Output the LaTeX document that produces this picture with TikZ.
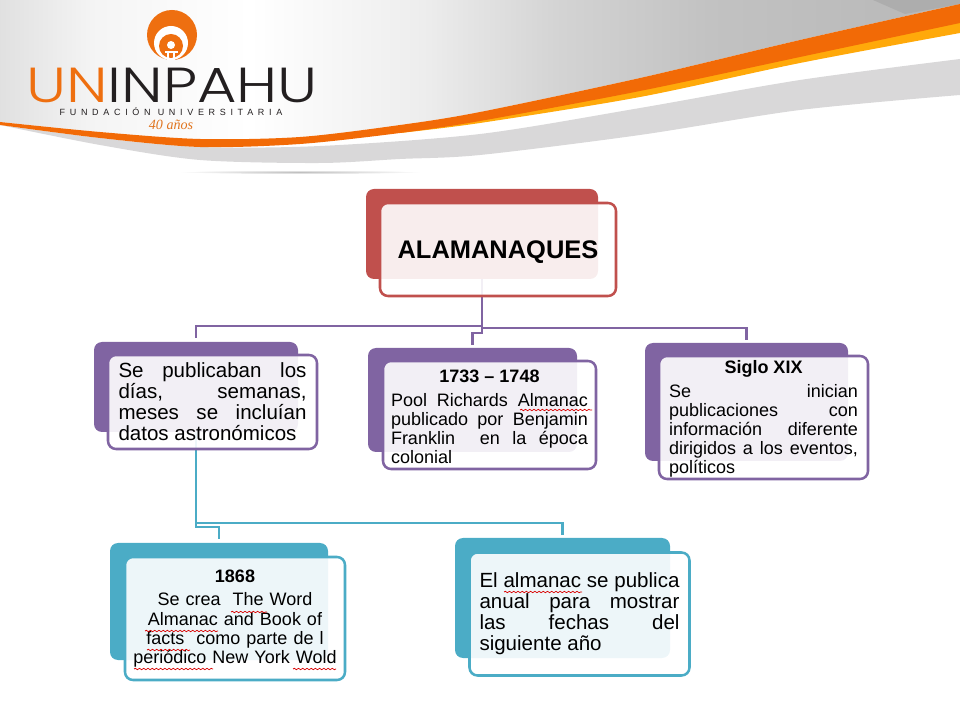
\documentclass[tikz,border=0pt]{standalone}
\usepackage{fontspec}
\usepackage{graphicx}
\setmainfont{Liberation Sans}
\newfontfamily\logofont{Poppins Light}
\newfontfamily\tagfont{Liberation Sans}[LetterSpace=52]
\newfontfamily\yearfont{Liberation Serif}
\usetikzlibrary{decorations.pathmorphing}

\definecolor{rootred}{HTML}{C0504D}
\definecolor{boxpurple}{HTML}{8064A2}
\definecolor{boxteal}{HTML}{4BACC6}
\definecolor{logoorange}{HTML}{EE6F10}
\definecolor{logodark}{HTML}{231F20}
\definecolor{swooshorange}{HTML}{F26A06}
\definecolor{swooshyellow}{HTML}{FFA90A}
\definecolor{bandgray}{HTML}{D9D8D9}

\pgfdeclarehorizontalshading{headershade}{100bp}{
  rgb(0bp)=(.88,.88,.88); rgb(25bp)=(.88,.88,.88); rgb(30bp)=(.96,.96,.96);
  rgb(38bp)=(1,1,1); rgb(47bp)=(.93,.93,.93); rgb(54bp)=(.83,.83,.83);
  rgb(62bp)=(.76,.76,.76); rgb(75bp)=(.72,.72,.72); rgb(100bp)=(.72,.72,.72)}

\newcommand{\px}{.025cm}
\newcommand{\boxhead}[1]{\hbox to \linewidth{\rule{0pt}{11.5pt}\hss\bfseries #1\hss}\par\vspace{3.5pt}}

\tikzset{
  backbox/.style={rounded corners=.2cm, inner sep=0pt},
  frontbox/.style={rounded corners=.2cm, inner sep=0pt, draw, line width=1.8pt,
    fill=white, fill opacity=.9, draw opacity=1, text opacity=1, text=black},
  bodytext/.style={font=\fontsize{12.8pt}{13.6pt}\selectfont, align=justify},
  largetext/.style={font=\fontsize{14.6pt}{15pt}\selectfont, align=justify},
  link/.style={line width=2pt},
  wavy/.style={red!85!black, line width=.5pt,
    decorate, decoration={snake, amplitude=.5pt, segment length=3pt}}
}

\begin{document}
\begin{tikzpicture}[x=\px, y=-\px]
      \useasboundingbox (0, 0) rectangle (960, 720);

      % header
      \begin{scope}
        \shade [shading=headershade] (0, 0) -- (960, 0) -- plot [smooth] coordinates {(960, 4) (800, 40) (640, 78) (480, 112) (400, 125) (300, 137) (200, 139) (100, 132) (0, 122)} -- cycle;
        \fill [black!32] (873, 0) -- (960, 0) -- (960, 4) -- (905, 14) -- cycle;
        \fill [bandgray] plot [smooth] coordinates {(0, 125) (100, 138) (200, 147) (320, 146) (480, 134) (640, 108) (800, 80) (960, 59)} -- plot [smooth] coordinates {(960, 95) (800, 110) (640, 135) (480, 155) (400, 159) (320, 163) (200, 160) (100, 145) (0, 125)} -- cycle;
        \fill [swooshyellow] plot [smooth] coordinates {(400, 132) (480, 118) (640, 88) (800, 50) (960, 20)} -- plot [smooth] coordinates {(960, 33) (800, 63) (640, 97) (480, 123) (400, 133)} -- cycle;
        \fill [swooshorange] plot [smooth] coordinates {(0, 122) (100, 132) (200, 139) (300, 137) (400, 125) (480, 112) (640, 78) (800, 40) (960, 4)} -- plot [smooth] coordinates {(960, 23) (800, 57) (640, 91) (480, 121) (400, 133) (300, 144) (200, 147) (100, 138) (0, 125)} -- cycle;
        \shade [shading=radial, inner color=black!25, outer color=white] (300, 172) ellipse [x radius=122, y radius=2];
      \end{scope}

      % logo
      \begin{scope}
        \fill [logoorange] (172, 35) circle [radius=25];
        \fill [white] (171, 43) circle [radius=17];
        \fill [logoorange] (171, 46) circle [radius=12];
        \fill [white] (171, 45) circle [radius=4];
        \fill [white] (165, 51) rectangle (178, 53);
        \fill [white] (167, 53) rectangle (169, 60);
        \fill [white] (173, 53) rectangle (175, 60);
      \end{scope}
      \node (logoname) at (172, 85) [inner sep=0pt, font=\logofont\fontsize{35pt}{35pt}\selectfont] {\scalebox{1.23}[1]{\textcolor{logoorange}{UN}\textcolor{logodark}{INPAHU}}};
      \node (logotag) at (171, 112) [inner sep=0pt, text=logodark, font=\tagfont\fontsize{6.4pt}{7pt}\selectfont] {FUNDACIÓN UNIVERSITARIA};
      \node (logoyears) at (171, 125) [inner sep=0pt, text=logoorange!70!brown, font=\yearfont\itshape\fontsize{10pt}{11pt}\selectfont] {40 años};

      % back boxes
      \node (rootback) at (482, 234) [backbox, fill=rootred, minimum width=232*\px, minimum height=90*\px] {};
      \node (diasback) at (196, 387) [backbox, fill=boxpurple, minimum width=204*\px, minimum height=90*\px] {};
      \node (poolback) at (472.5, 400) [backbox, fill=boxpurple, minimum width=209*\px, minimum height=104*\px] {};
      \node (sigloback) at (746.5, 402) [backbox, fill=boxpurple, minimum width=203*\px, minimum height=118*\px] {};
      \node (wordback) at (219, 601.5) [backbox, fill=boxteal, minimum width=218*\px, minimum height=117*\px] {};
      \node (anualback) at (562.5, 598) [backbox, fill=boxteal, minimum width=215*\px, minimum height=120*\px] {};

      % connectors
      \coordinate (joinleft) at (482, 326);
      \coordinate (joinright) at (482, 328);
      \coordinate (joinmid) at (482, 333);
      \coordinate (tealone) at (196, 523);
      \coordinate (tealtwo) at (196, 527);
      \draw [link, boxpurple, shorten >=4*\px] (rootback.south) -- (joinleft) -| (diasback.north);
      \draw [link, boxpurple, shorten >=3*\px] (rootback.south) -- (joinright) -| (sigloback.north);
      \draw [link, boxpurple, shorten >=3*\px] (rootback.south) -- (joinmid) -| (poolback.north);
      \draw [link, boxteal, shorten >=3*\px] (diasback.south) -- (tealone) -| (anualback.north);
      \draw [link, boxteal, shorten >=4*\px] (diasback.south) -- (tealtwo) -| (wordback.north);

      % front boxes
      \node (root) at (498, 249.5) [frontbox, draw=rootred, minimum width=236*\px, minimum height=93*\px, text depth=0pt, font=\bfseries\fontsize{18.1pt}{20pt}\selectfont] {ALAMANAQUES};
      \node (dias) at (212.5, 402) [frontbox, draw=boxpurple, minimum width=209*\px, minimum height=94*\px, text width=188*\px, largetext] {Se publicaban los\linebreak días, semanas,\linebreak meses se incluían\linebreak datos astronómicos};
      \node (pool) at (489.5, 415) [frontbox, draw=boxpurple, minimum width=213*\px, minimum height=108*\px, text width=197*\px, bodytext] {\boxhead{1733 – 1748}Pool Richards Almanac\linebreak publicado por Benjamin\linebreak Franklin \ en la época\linebreak colonial};
      \node (siglo) at (763.5, 417.5) [frontbox, draw=boxpurple, minimum width=209*\px, minimum height=123*\px, text width=189*\px, bodytext] {\boxhead{Siglo XIX}Se inician\linebreak publicaciones con\linebreak información diferente\linebreak dirigidos a los eventos,\linebreak políticos};
      \node (word) at (235, 618.5) [frontbox, draw=boxteal, minimum width=220*\px, minimum height=123*\px, text width=205*\px, bodytext, align=center] {\textbf{1868}\\[3pt]Se crea \ The Word\\Almanac and Book of\\facts \ como parte de l\\periódico New York Wold};
      \node (anual) at (579.5, 614) [frontbox, draw=boxteal, minimum width=220*\px, minimum height=123*\px, text width=200*\px, largetext] {El almanac se publica\linebreak anual para mostrar\linebreak las fechas del\linebreak siguiente año};

      % spelling marks
      \draw [wavy] (520, 410) -- (592, 410);
      \draw [wavy] (231, 612) -- (267, 612);
      \draw [wavy] (145, 631) -- (218, 631);
      \draw [wavy] (147, 650) -- (190, 650);
      \draw [wavy] (134, 669) -- (213, 669);
      \draw [wavy] (293, 669) -- (336, 669);
      \draw [wavy] (504, 592) -- (582, 592);
    \end{tikzpicture}
\end{document}
